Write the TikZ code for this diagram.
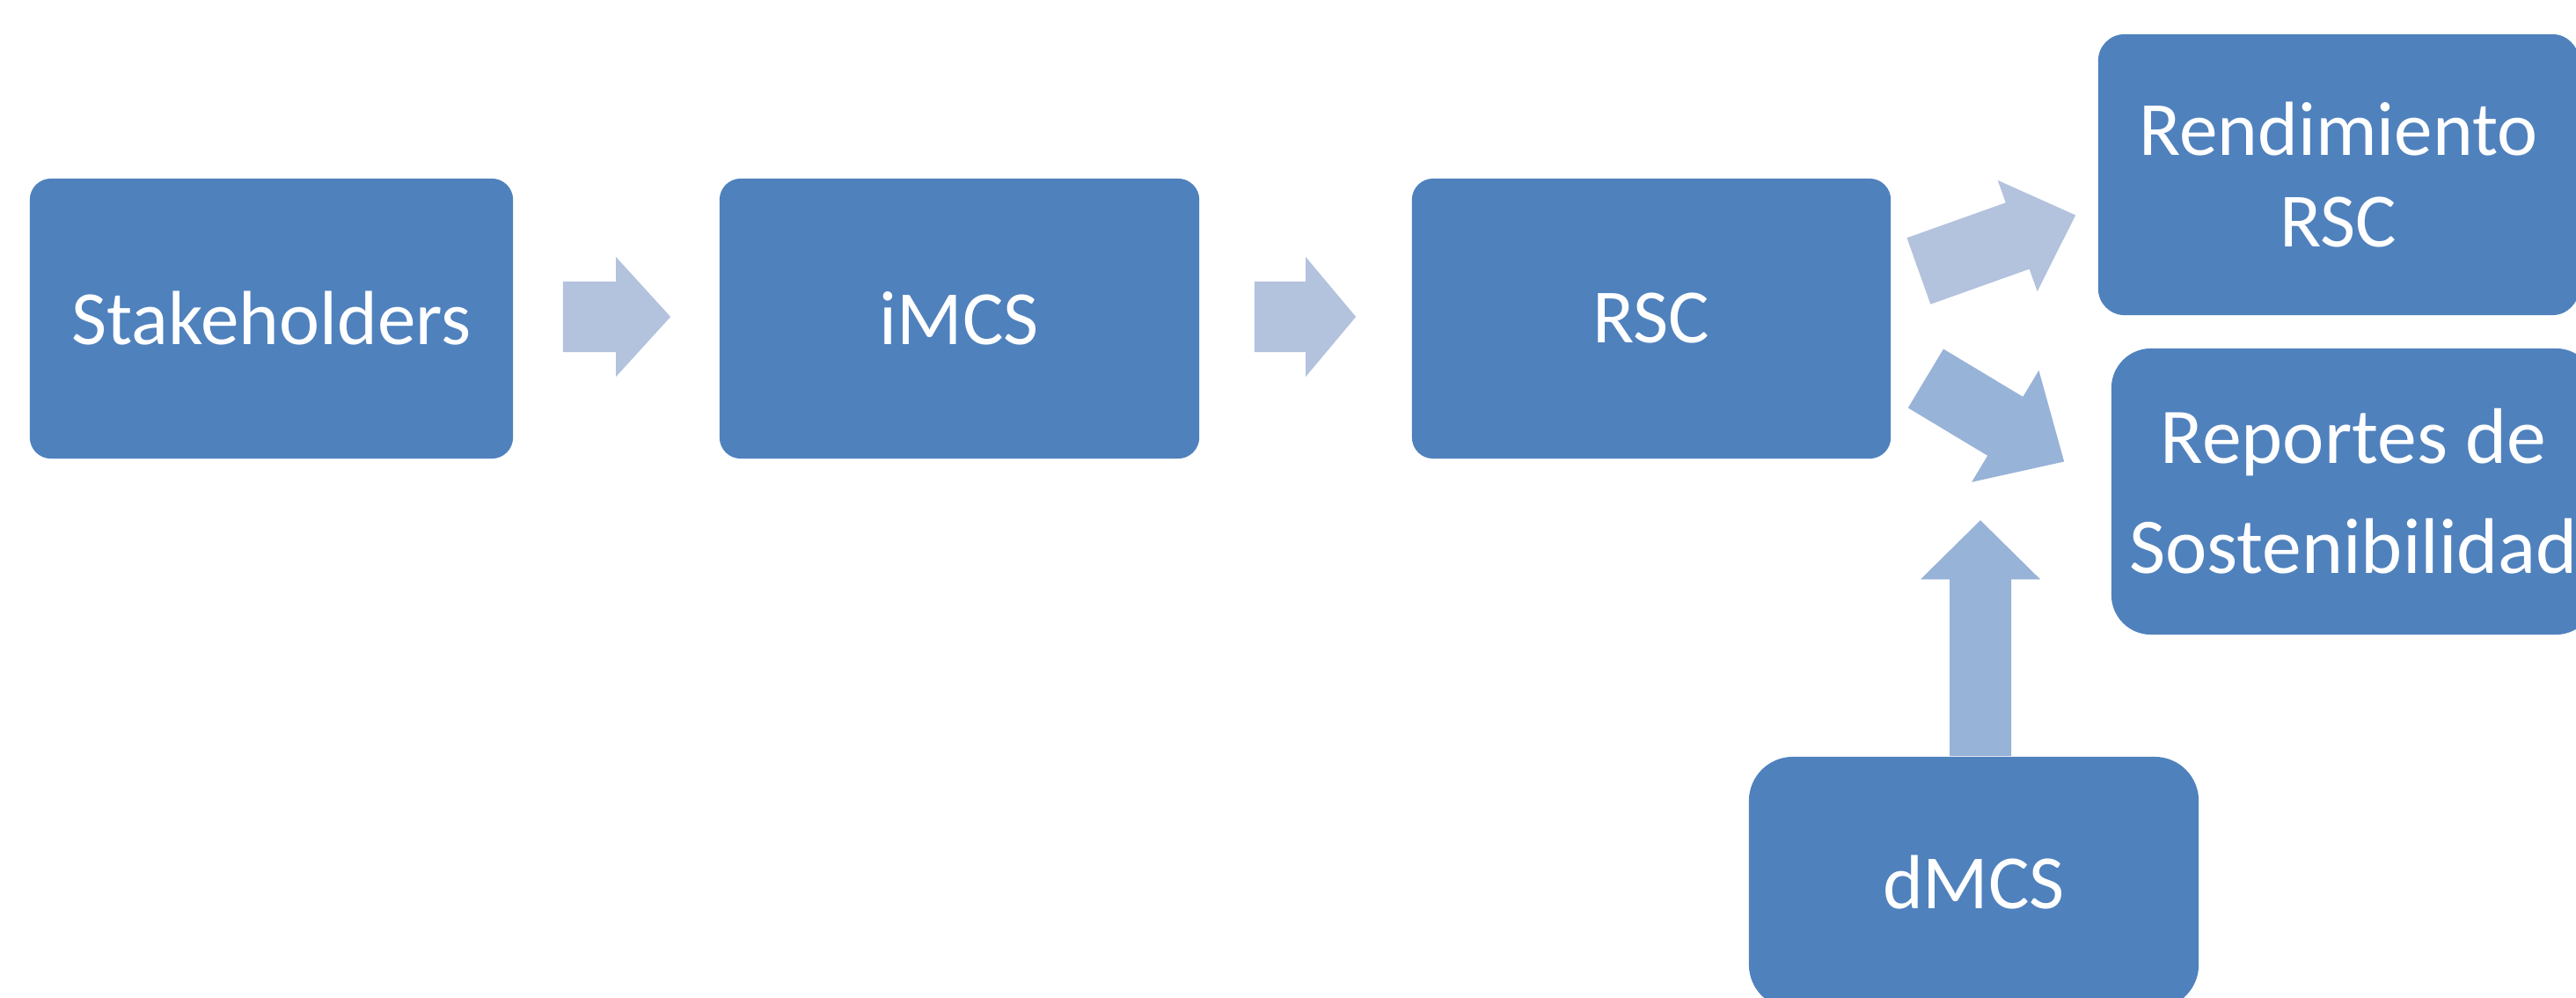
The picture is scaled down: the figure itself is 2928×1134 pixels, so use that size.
\documentclass[tikz,border=0pt]{standalone}
\usepackage{fontspec}
\setmainfont{Carlito}
\usetikzlibrary{calc}
\definecolor{boxblue}{HTML}{4F81BD}
\definecolor{arrlight}{HTML}{B3C2DD}
\definecolor{arrmid}{HTML}{98B3D8}
\newcommand\blkarrow[6]{%
  \coordinate (bkH) at ($(#2)!#5!(#1)$);
  \fill[#6] ($(#1)!#3!90:(#2)$) -- ($(bkH)!#3!90:(#2)$) -- ($(bkH)!#4!90:(#2)$) -- (#2)
   -- ($(bkH)!#4!-90:(#2)$) -- ($(bkH)!#3!-90:(#2)$) -- ($(#1)!#3!-90:(#2)$) -- cycle;}
\tikzset{
  box/.style={fill=boxblue, text=white, align=center, inner sep=0pt,
    font=\fontsize{24.8pt}{29.8pt}\selectfont},
}
\begin{document}
\begin{tikzpicture}[x=0.01cm,y=-0.01cm]
\useasboundingbox (0,0) rectangle (2928,1134);
\clip (0,0) rectangle (2928,1134);
\fill[white] (0,0) rectangle (2928,1134);

\node[box, minimum width=5.49cm, minimum height=3.18cm, rounded corners=0.24cm] (S) at (308.5,362) {Stakeholders};
\node[box, minimum width=5.45cm, minimum height=3.18cm, rounded corners=0.24cm] (I) at (1090.5,362) {iMCS};
\node[box, minimum width=5.44cm, minimum height=3.18cm, rounded corners=0.24cm] (R) at (1877,362) {RSC};
\node[box, minimum width=5.46cm, minimum height=3.19cm, rounded corners=0.30cm] (RR) at (2658,198.5) {Rendimiento\\RSC};
\node[box, minimum width=5.50cm, minimum height=3.25cm, rounded corners=0.45cm,
      font=\fontsize{25.5pt}{35.5pt}\selectfont] (RS) at (2675,558.5) {Reportes de\\Sostenibilidad};
\node[box, minimum width=5.11cm, minimum height=2.86cm, rounded corners=0.50cm] (D) at (2243.5,1003) {dMCS};

\coordinate (a1t) at ($(S.east)+(56,-2)$);
\coordinate (a1h) at ($(I.west)+(-55,-2)$);
\coordinate (a2t) at ($(I.east)+(62,-2)$);
\coordinate (a2h) at ($(R.west)+(-63,-2)$);
\coordinate (a3t) at ($(R.east)+(31,-54)$);
\coordinate (a3h) at ($(RR.west)+(-25,46)$);
\coordinate (a4t) at ($(R.east)+(39,68)$);
\coordinate (a4h) at ($(RS.west)+(-53,-34)$);
\coordinate (a5t) at ($(D.north)+(7.5,0)$);
\coordinate (a5h) at ($(D.north)+(7.5,-268)$);

\blkarrow{a1t}{a1h}{0.40cm}{0.68cm}{0.62cm}{arrlight}
\blkarrow{a2t}{a2h}{0.40cm}{0.68cm}{0.57cm}{arrlight}
\blkarrow{a3t}{a3h}{0.40cm}{0.67cm}{0.70cm}{arrlight}
\blkarrow{a4t}{a4h}{0.39cm}{0.74cm}{0.78cm}{arrmid}
\blkarrow{a5t}{a5h}{0.35cm}{0.68cm}{0.67cm}{arrmid}
\end{tikzpicture}
\end{document}
